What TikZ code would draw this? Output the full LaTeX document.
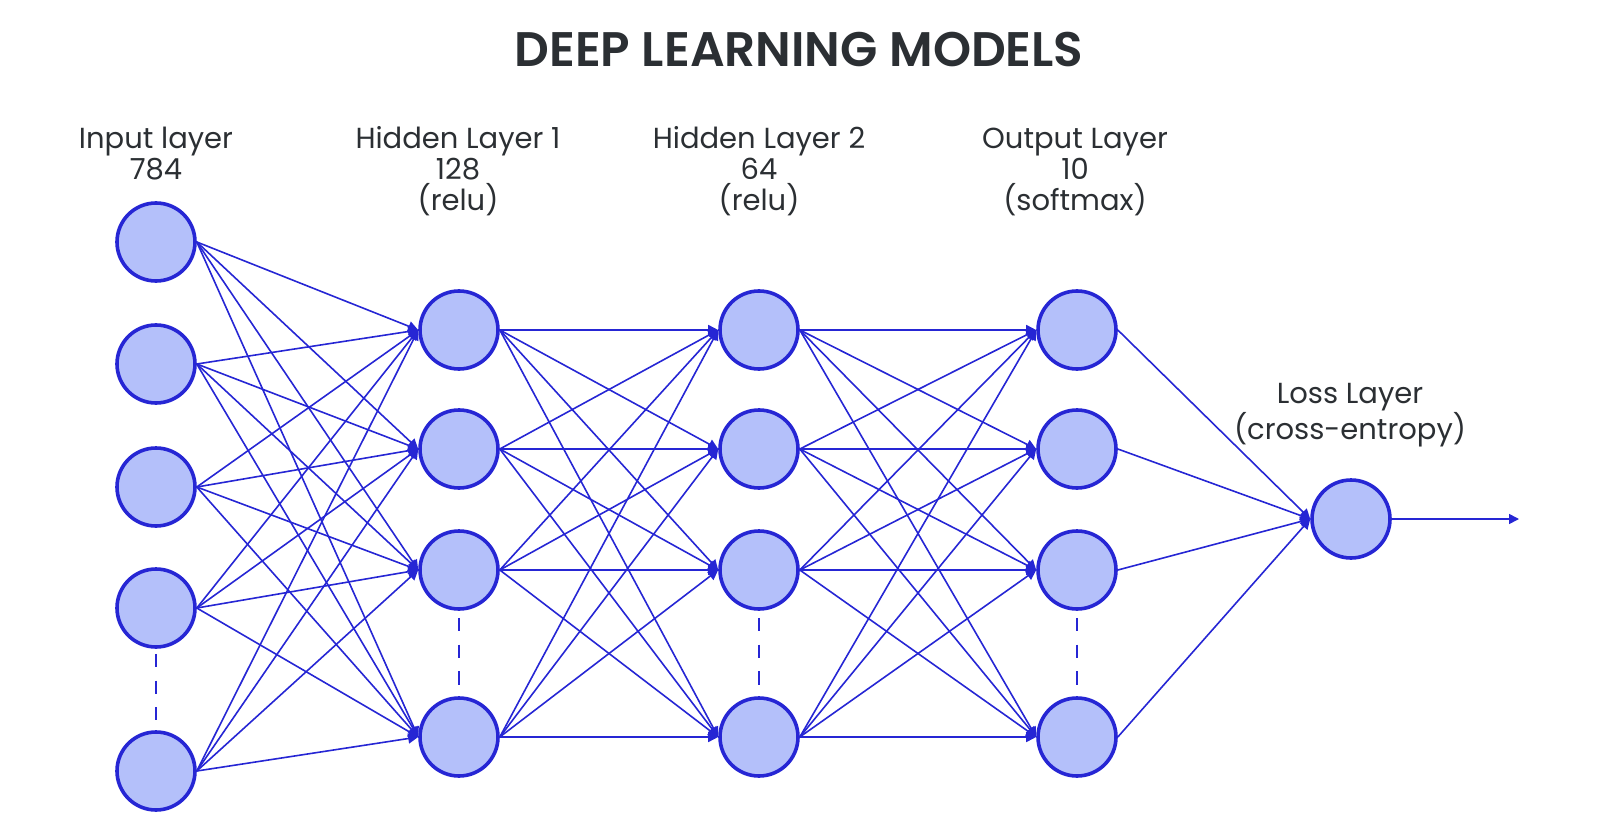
\documentclass[tikz,border=0pt]{standalone}
\usepackage{fontspec}
\setmainfont{Poppins}
\newfontfamily\ttlfont{Poppins}[UprightFont={* SemiBold}]
\usetikzlibrary{arrows.meta}
\definecolor{nfill}{HTML}{B4C0FA}
\definecolor{nline}{HTML}{2626D4}
\definecolor{txt}{HTML}{2B2F33}
\begin{document}
\begin{tikzpicture}[x=1pt,y=-1pt,
  neuron/.style={circle, draw=nline, fill=nfill, line width=3.6pt, minimum size=78pt, inner sep=0pt},
  conn/.style={draw=nline, line width=1.6pt, -{Triangle[length=10pt,width=10pt]}},
  dots/.style={draw=nline, line width=2pt, dash pattern=on 13.4pt off 13.4pt},
  lbl/.style={text=txt, font=\fontsize{29}{31}\selectfont, align=center, anchor=base, inner sep=0pt},
  ttl/.style={text=txt, font=\fontsize{48.5}{56}\ttlfont, anchor=base, inner sep=0pt}]
\path[use as bounding box] (0,0) rectangle (1600,834);

\node[ttl] (title) at (799,67) {DEEP LEARNING MODELS};

\node[lbl] (linput) at (156,180) {Input layer\\784};
\node[lbl] (lh1) at (458,211) {Hidden Layer 1\\128\\(relu)};
\node[lbl] (lh2) at (759,211) {Hidden Layer 2\\64\\(relu)};
\node[lbl] (lout) at (1075,211) {Output Layer\\10\\(softmax)};
\node[lbl] (lloss) at (1350,439) {Loss Layer\\(cross-entropy)};

% input layer
\foreach \i/\y in {1/242,2/364,3/487,4/608,5/771}
  \node[neuron] (i\i) at (156,\y) {};
% hidden / output layers
\foreach \i/\y in {1/330,2/449,3/570,4/737} {
  \node[neuron] (a\i) at (459,\y) {};
  \node[neuron] (b\i) at (759,\y) {};
  \node[neuron] (c\i) at (1077,\y) {};
}
\node[neuron] (loss) at (1351,519) {};
\coordinate (outend) at (1519,519);

% dashed continuation marks
\draw[dots, shorten <=5pt, shorten >=10pt] (i4.south) -- (i5.north);
\draw[dots, shorten <=7pt, shorten >=7pt] (a3.south) -- (a4.north);
\draw[dots, shorten <=7pt, shorten >=7pt] (b3.south) -- (b4.north);
\draw[dots, shorten <=7pt, shorten >=7pt] (c3.south) -- (c4.north);

% connections
\foreach \s in {1,...,5}
  \foreach \t in {1,...,4}
    \draw[conn] (i\s.east) -- (a\t.west);
\foreach \s in {1,...,4}
  \foreach \t in {1,...,4} {
    \draw[conn] (a\s.east) -- (b\t.west);
    \draw[conn] (b\s.east) -- (c\t.west);
  }
\foreach \s in {1,...,4}
  \draw[conn] (c\s.east) -- (loss.west);
\draw[conn] (loss.east) -- (outend);
\end{tikzpicture}
\end{document}
